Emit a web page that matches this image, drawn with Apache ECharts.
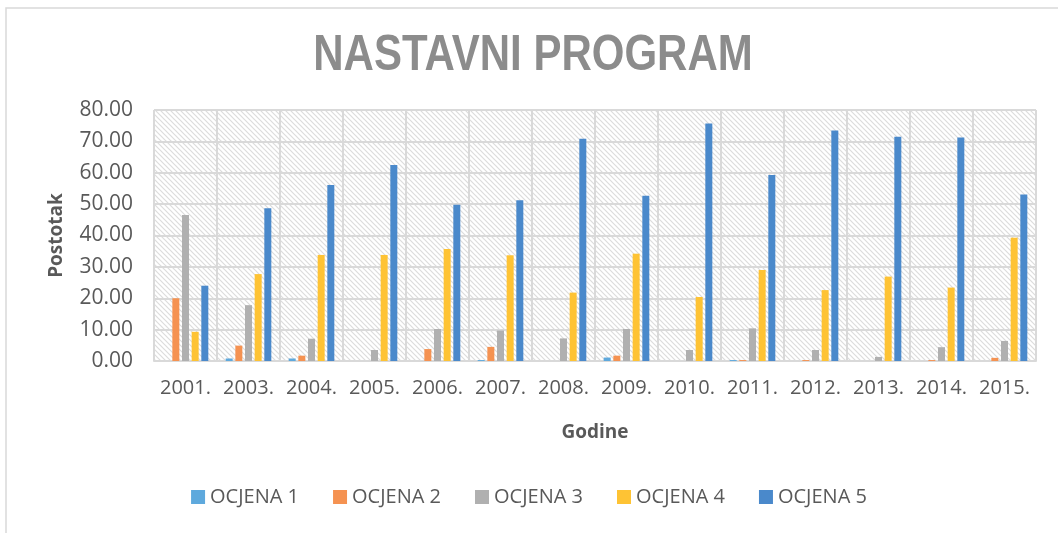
<!DOCTYPE html>
<html>
<head>
<meta charset="utf-8">
<style>
  html, body { margin: 0; padding: 0; background: #fff; }
  #chart { width: 1058px; height: 533px; }
</style>
</head>
<body>
<div id="chart"></div>
<script src="https://cdn.jsdelivr.net/npm/echarts@6/dist/echarts.min.js"></script>
<script>
// podaci
var godine = ['2001.', '2003.', '2004.', '2005.', '2006.', '2007.', '2008.', '2009.', '2010.', '2011.', '2012.', '2013.', '2014.', '2015.'];
var ocjena1 = [0, 0.8, 0.8, 0, 0, 0.3, 0, 1.1, 0, 0.3, 0, 0, 0, 0];
var ocjena2 = [20.0, 4.9, 1.7, 0, 3.8, 4.5, 0, 1.7, 0, 0.3, 0.3, 0, 0.3, 1.0];
var ocjena3 = [46.5, 17.8, 7.1, 3.5, 10.2, 9.7, 7.2, 10.2, 3.5, 10.4, 3.5, 1.3, 4.4, 6.4];
var ocjena4 = [9.3, 27.7, 33.8, 33.8, 35.7, 33.7, 21.8, 34.2, 20.4, 29.0, 22.6, 26.9, 23.4, 39.3];
var ocjena5 = [24.0, 48.7, 56.1, 62.5, 49.8, 51.2, 70.8, 52.7, 75.7, 59.3, 73.5, 71.5, 71.2, 53.1];
var nazivi = ['OCJENA 1', 'OCJENA 2', 'OCJENA 3', 'OCJENA 4', 'OCJENA 5'];
var boje = ['#5ea9dd', '#f59251', '#b0b0b0', '#fec334', '#4a89cb'];

// uzorak sa kosim linijama za pozadinu
var pc = document.createElement('canvas');
pc.width = 5; pc.height = 5;
var ctx = pc.getContext('2d');
ctx.fillStyle = '#ffffff';
ctx.fillRect(0, 0, 5, 5);
ctx.strokeStyle = '#dcdcdc';
ctx.lineWidth = 1.2;
ctx.beginPath();
ctx.moveTo(0, 0); ctx.lineTo(5, 5);
ctx.moveTo(-3, 2); ctx.lineTo(3, 8);
ctx.moveTo(2, -3); ctx.lineTo(8, 3);
ctx.stroke();

var font = '"Open Sans", "Liberation Sans", sans-serif';
var chart = echarts.init(document.getElementById('chart'));
var podaci = [ocjena1, ocjena2, ocjena3, ocjena4, ocjena5];
var serije = podaci.map(function (d, i) {
    return {
        name: nazivi[i],
        type: 'bar',
        data: d,
        barWidth: 7,
        barGap: '38%',
        itemStyle: { color: boje[i] }
    };
});

var option = {
    animation: false,
    graphic: [{
        type: 'rect',
        shape: { x: 6, y: 8, width: 1060, height: 540 },
        style: { fill: 'none', stroke: '#d9d9d9', lineWidth: 1.5 },
        silent: true
    }, {
        // naslov, malo suzen kao u originalu
        type: 'text',
        x: 533,
        y: 56,
        scaleX: 0.84,
        silent: true,
        style: {
            text: 'NASTAVNI PROGRAM',
            font: 'bold 50px "Liberation Sans", Arial, sans-serif',
            fill: '#8c8c8c',
            align: 'center',
            verticalAlign: 'middle'
        }
    }],
    legend: {
        data: nazivi,
        top: 482,
        left: 'center',
        itemWidth: 14,
        itemHeight: 14,
        itemGap: 34,
        icon: 'rect',
        textStyle: { fontFamily: font, fontSize: 20, color: '#595959' }
    },
    grid: {
        left: 154,
        right: 22,
        top: 110,
        bottom: 172,
        show: true,
        borderWidth: 0,
        backgroundColor: { image: pc, repeat: 'repeat' }
    },
    xAxis: {
        type: 'category',
        data: godine,
        name: 'Godine',
        nameLocation: 'middle',
        nameGap: 62,
        nameTextStyle: { fontFamily: font, fontSize: 19, fontWeight: 'bold', color: '#595959' },
        axisLine: { lineStyle: { color: '#d9d9d9', width: 2 } },
        axisTick: { show: false },
        axisLabel: { interval: 0, fontFamily: font, fontSize: 20, color: '#595959', margin: 17 },
        splitLine: { show: true, interval: 0, lineStyle: { color: '#d9d9d9', width: 2 } }
    },
    yAxis: {
        type: 'value',
        min: 0,
        max: 80,
        interval: 10,
        name: 'Postotak',
        nameLocation: 'middle',
        nameGap: 88,
        nameTextStyle: { fontFamily: font, fontSize: 19, fontWeight: 'bold', color: '#595959' },
        axisLine: { show: false },
        axisTick: { show: false },
        axisLabel: {
            fontFamily: font, fontSize: 21, color: '#595959', margin: 21,
            formatter: function (v) { return v.toFixed(2); }
        },
        splitLine: { lineStyle: { color: '#d9d9d9', width: 2 } }
    },
    series: serije
};
chart.setOption(option);
</script>
</body>
</html>
